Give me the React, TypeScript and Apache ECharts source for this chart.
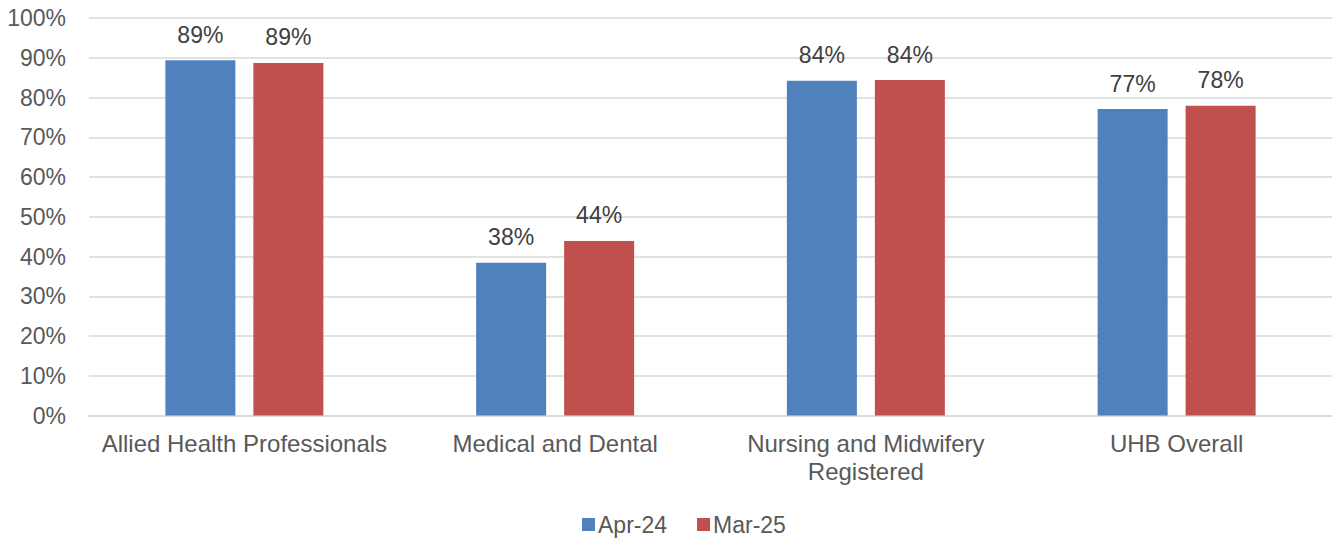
import React, { useEffect, useRef } from "react";
import * as echarts from "echarts";

const categories = [
  "Allied Health Professionals",
  "Medical and Dental",
  "Nursing and Midwifery\nRegistered",
  "UHB Overall",
];
const apr24 = [89.4, 38.4, 84.2, 77.1];
const mar25 = [88.7, 43.9, 84.4, 77.9];
const yTicks = [0, 10, 20, 30, 40, 50, 60, 70, 80, 90, 100];

const FONT = "Liberation Sans, Arial, sans-serif";

export default function App() {
  const ref = useRef<HTMLDivElement>(null);

  useEffect(() => {
    if (!ref.current) return;
    const chart = echarts.init(ref.current, undefined, { renderer: "svg" });
    const dataLabel = {
      show: true,
      position: "top",
      distance: 14,
      color: "#404040",
      fontSize: 23,
      fontFamily: FONT,
      formatter: (p: any) => `${Math.round(p.value)}%`,
    };
    chart.setOption({
      animation: false,
      backgroundColor: "#ffffff",
      textStyle: { fontFamily: FONT },
      grid: { left: 89, right: -2, top: 18, bottom: 124.5, containLabel: false },
      legend: {
        left: 577,
        top: 508,
        itemWidth: 13,
        itemHeight: 13,
        itemGap: 30,
        icon: "rect",
        textStyle: { color: "#595959", fontSize: 23, fontFamily: FONT, padding: [0, 0, 0, -2] },
        data: ["Apr-24", "Mar-25"],
      },
      xAxis: {
        type: "category",
        data: categories,
        axisLine: { show: true, lineStyle: { color: "#d9d9d9", width: 1.5 } },
        axisTick: { show: false },
        axisLabel: {
          color: "#595959",
          fontSize: 24,
          fontFamily: FONT,
          margin: 14,
          lineHeight: 28,
          interval: 0,
        },
      },
      yAxis: {
        type: "value",
        min: yTicks[0],
        max: yTicks[yTicks.length - 1],
        interval: yTicks[1] - yTicks[0],
        axisLine: { show: false },
        axisTick: { show: false },
        splitLine: { lineStyle: { color: "#d9d9d9", width: 1.5 } },
        axisLabel: {
          color: "#595959",
          fontSize: 23,
          fontFamily: FONT,
          margin: 23,
          formatter: (v: number) => `${v}%`,
        },
      },
      series: [
        {
          name: "Apr-24",
          type: "bar",
          data: apr24,
          barWidth: 70,
          barGap: "25.7%",
          itemStyle: { color: "#4F81BD" },
          label: dataLabel,
        },
        {
          name: "Mar-25",
          type: "bar",
          data: mar25,
          barWidth: 70,
          barGap: "25.7%",
          itemStyle: { color: "#C0504D" },
          label: dataLabel,
        },
      ],
    });
    return () => chart.dispose();
  }, []);

  return (
    <div
      ref={ref}
      style={{ position: "fixed", left: 0, top: 0, width: 1332, height: 540, background: "#fff" }}
    />
  );
}
